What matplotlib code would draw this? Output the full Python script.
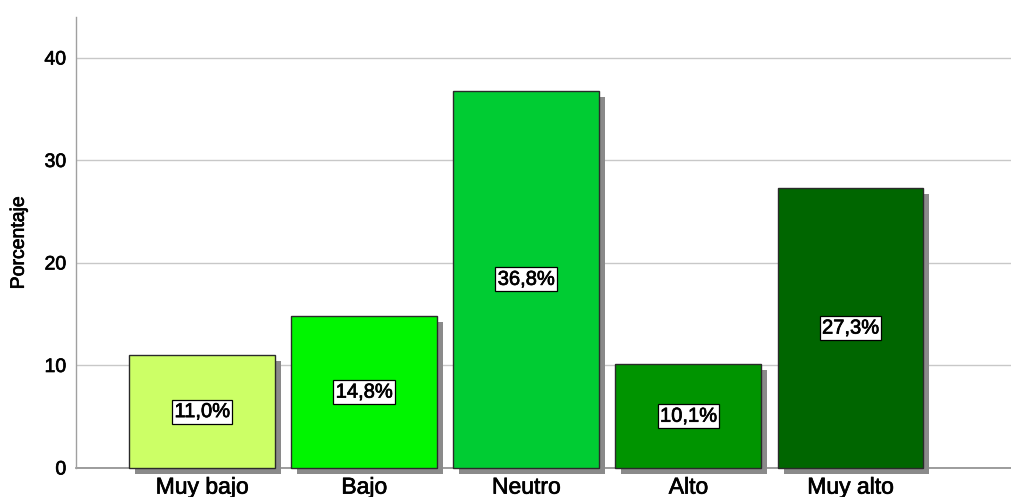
import matplotlib
matplotlib.use("Agg")
import matplotlib.pyplot as plt
import matplotlib.patheffects as pe

categories = ["Muy bajo", "Bajo", "Neutro", "Alto", "Muy alto"]
values = [11.0, 14.8, 36.8, 10.1, 27.3]
labels = ["11,0%", "14,8%", "36,8%", "10,1%", "27,3%"]
colors = ["#ccff66", "#00f500", "#00cc33", "#009400", "#006600"]
yticks = [0, 10, 20, 30, 40]

plt.rcParams['font.family'] = ['Liberation Sans', 'DejaVu Sans']

fig = plt.figure(figsize=(10.11, 4.97), dpi=100)
ax = fig.add_axes([0.0752, 0.0584, 0.9248, 0.9074])

thick = [pe.withStroke(linewidth=0.5, foreground="black")]

x = list(range(len(categories)))
bars = ax.bar(x, values, width=0.9, color=colors, edgecolor="#2a2a2a",
              linewidth=1.0, zorder=2, clip_on=False)
for b in bars:
    b.set_path_effects([pe.SimplePatchShadow(offset=(4.3, -4.3),
                                             shadow_rgbFace="#8a8a8a", alpha=1.0),
                        pe.Normal()])

for xi, v, lab in zip(x, values, labels):
    ax.text(xi, v / 2, lab, ha="center", va="center", fontsize=14.5, zorder=5,
            path_effects=thick,
            bbox=dict(boxstyle="square,pad=0.12", fc="white", ec="black", lw=0.9))

ax.set_xlim(-0.778, 4.99)
ax.set_ylim(0, 44)
ax.set_yticks(yticks)
ax.set_xticks(x)
ax.set_xticklabels(categories, fontsize=16.5)
ax.tick_params(axis="y", labelsize=14, length=0, pad=7)
ax.tick_params(axis="x", length=0, pad=5.5)
for t in ax.get_xticklabels() + ax.get_yticklabels():
    t.set_path_effects(thick)
ax.yaxis.grid(True, color="#c8c8c8", linewidth=1.0, zorder=0)
ax.axhline(0, color="#8c8c8c", linewidth=1.2, zorder=1, clip_on=False)
ax.set_axisbelow(True)
for s in ["top", "right", "bottom"]:
    ax.spines[s].set_visible(False)
ax.spines["left"].set_color("#a0a0a0")
ax.spines["left"].set_linewidth(1.0)
yl = ax.set_ylabel("Porcentaje", fontsize=14, labelpad=12)
yl.set_path_effects(thick)

fig.savefig("out.png", dpi=100)
